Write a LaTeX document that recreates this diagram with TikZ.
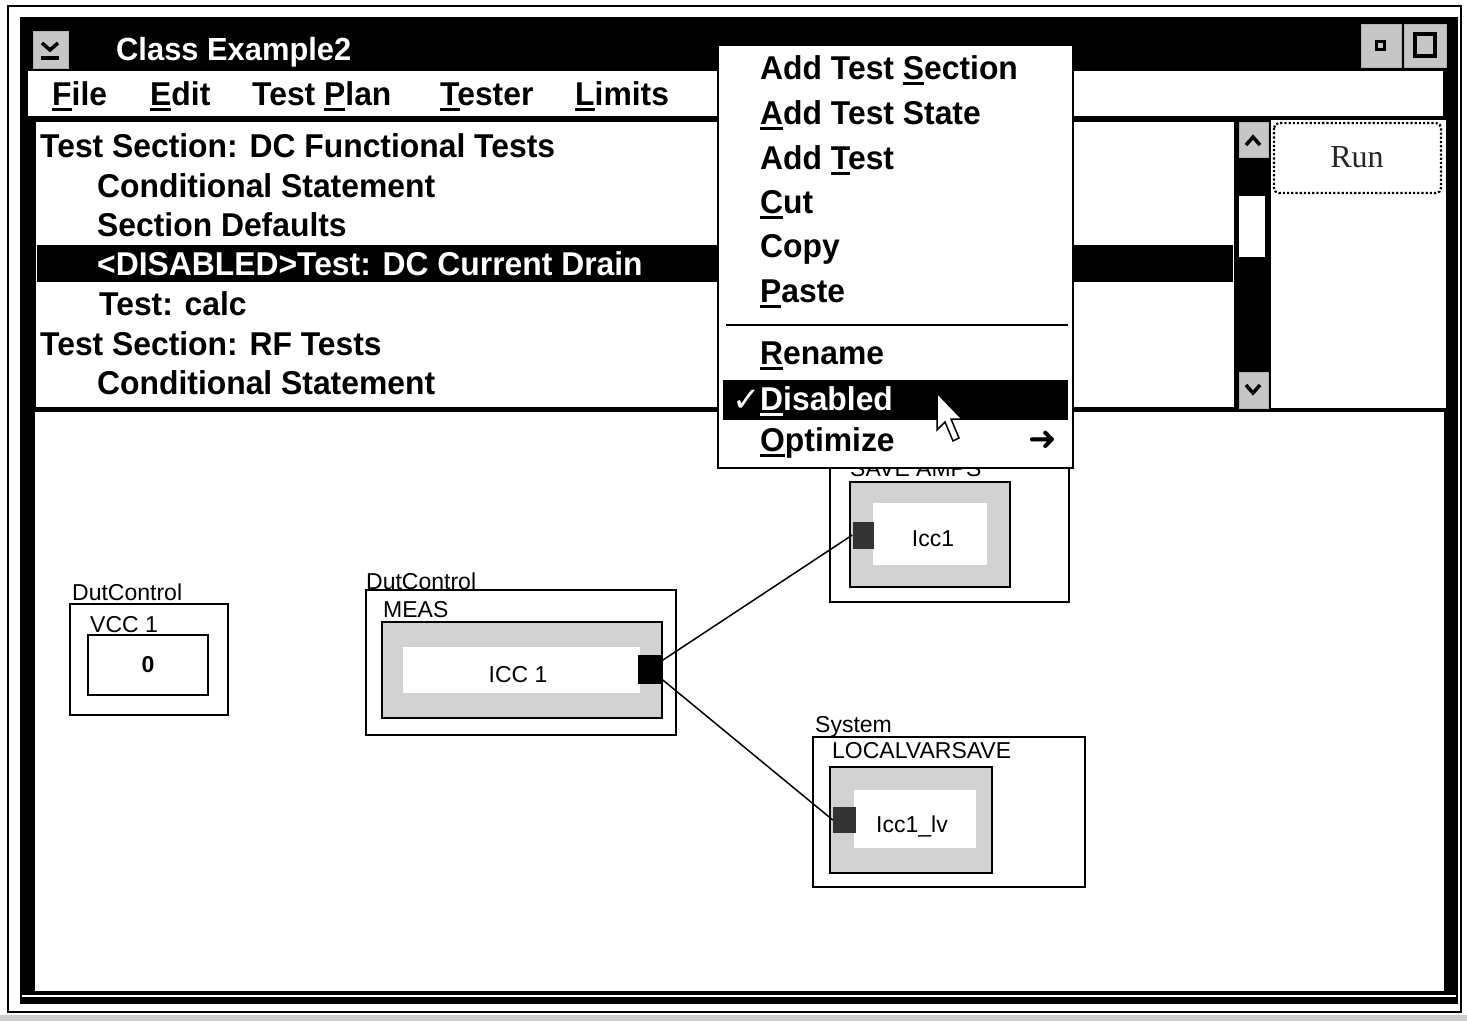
\documentclass[tikz,border=0pt]{standalone}
\usepackage{fontspec}
\setmainfont{Liberation Sans}
\newfontfamily\uif[FakeStretch=0.965]{Liberation Sans}
\newfontfamily\symf{DejaVu Sans}
\newfontfamily\runf{Liberation Serif}
\newcommand\mnem[1]{\setbox0\hbox{#1}\rlap{\rule[-6pt]{\wd0}{2.6pt}}#1}
\begin{document}
\begin{tikzpicture}[x=1pt,y=-1pt,
  ui/.style={font=\uif\fontsize{33}{33}\selectfont\bfseries, inner sep=0pt, anchor=base west},
  dg/.style={font=\fontsize{23}{23}\selectfont, inner sep=0pt},
  dglab/.style={dg, anchor=base west},
  outerblk/.style={draw=black, line width=1.6pt, fill=white, inner sep=0pt},
  greyblk/.style={draw=black, line width=2.6pt, fill=gray!35, inner sep=0pt},
  whiteblk/.style={fill=white, inner sep=0pt},
  portblk/.style={fill=black, inner sep=0pt},
  wire/.style={line width=1.5pt},
  btn/.style={fill=gray!45, draw=gray!60, line width=0.5pt}]
\useasboundingbox (0,0) rectangle (1467,1021);
\fill[white] (0,0) rectangle (1467,1021);
% outer thin frame
\draw[line width=1.5pt] (8,6) rectangle (1461,1012);
\fill[gray!40] (0,1015) rectangle (1467,1021);
% window black body
\fill[black] (20,17) rectangle (1458,1004);
\draw[white, line width=1.2pt] (22,996) -- (1456,996);
% system menu button
\fill[btn] (33,31) rectangle (68,68);
\draw[line width=3.5pt] (42,43) -- (50,50) -- (58,43);
\draw[line width=3.5pt] (41,58) -- (59,58);
% title
\node[ui, text=white, font=\uif\fontsize{32}{32}\selectfont\bfseries] (title) at (116,60) {Class Example2};
% min / max buttons
\fill[btn] (1361,24) rectangle (1401,67);
\fill[btn] (1404,24) rectangle (1446,67);
\draw[line width=3pt] (1376,41) rectangle (1384,49);
\draw[line width=3.2pt] (1415,34) rectangle (1435,56);
% menu bar
\fill[white] (28,71) rectangle (1443,116);
\node[ui] (mfile) at (52,105) {\mnem{F}ile};
\node[ui] (medit) at (150,105) {\mnem{E}dit};
\node[ui] (mplan) at (252,105) {Test \mnem{P}lan};
\node[ui] (mtester) at (440,105) {\mnem{T}ester};
\node[ui] (mlimits) at (575,105) {\mnem{L}imits};
% list area
\fill[white] (36,122) rectangle (1234,407);
\fill[black] (37,245) rectangle (1233,282);
\node[ui] (l1) at (40,157) {Test Section: DC Functional Tests};
\node[ui] (l2) at (97,197) {Conditional Statement};
\node[ui] (l3) at (97,236) {Section Defaults};
\node[ui, text=white] (l4) at (97,275) {<DISABLED>Test: DC Current Drain};
\node[ui] (l5) at (99,315) {Test: calc};
\node[ui] (l6) at (40,355) {Test Section: RF Tests};
\node[ui] (l7) at (97,394) {Conditional Statement};
% scrollbar
\fill[btn] (1239,122) rectangle (1268,157);
\draw[line width=3.5pt] (1246,145) -- (1253,137) -- (1260,145);
\fill[white] (1239,196) rectangle (1265,257);
\fill[btn] (1239,372) rectangle (1268,408);
\draw[line width=3.5pt] (1246,385) -- (1253,393) -- (1260,385);
% right panel
\fill[white] (1271,120) rectangle (1446,408);
\draw[line width=2.2pt, dotted, rounded corners=5pt] (1274,123) rectangle (1441,193);
\node[font=\runf\fontsize{32}{32}\selectfont, text=black!85, inner sep=0pt] (run) at (1357,157) {Run};
% canvas
\fill[white] (35,412) rectangle (1444,991);
% diagram blocks
\node[outerblk, minimum width=158pt, minimum height=111pt] (vccbox) at (149,659.5) {};
\node[dglab] (vccgrp) at (72,600) {DutControl};
\node[dglab] (vccname) at (90,632) {VCC 1};
\node[draw=black, line width=2.6pt, fill=white, minimum width=120pt, minimum height=60pt, dg, font=\fontsize{23}{23}\selectfont\bfseries] (vccval) at (148,665) {0};

\node[outerblk, minimum width=310pt, minimum height=145pt] (measbox) at (521,662.5) {};
\node[dglab] (measgrp) at (366,589) {DutControl};
\node[dglab] (measname) at (383,617) {MEAS};
\node[greyblk, minimum width=280pt, minimum height=96pt] (measin) at (522,670) {};
\node[whiteblk, minimum width=237pt, minimum height=46pt] (measw) at (521.5,670) {};
\node[dg] (icc) at (518,675) {ICC 1};
\node[portblk, minimum width=24pt, minimum height=29pt] (pm) at (650,669.5) {};

\node[outerblk, minimum width=239pt, minimum height=160pt] (savebox) at (949.5,522) {};
\node[dglab] (savename) at (850,476) {SAVE AMPS};
\node[greyblk, minimum width=160pt, minimum height=105pt] (savein) at (930,534.5) {};
\node[whiteblk, minimum width=114pt, minimum height=62pt] (savew) at (930,534) {};
\node[dg] (icc1) at (933,539) {Icc1};
\node[portblk, fill=black!80, minimum width=21pt, minimum height=27pt] (ps) at (863,535) {};

\node[outerblk, minimum width=272pt, minimum height=150pt] (sysbox) at (949,812) {};
\node[dglab] (sysgrp) at (815,732) {System};
\node[dglab] (sysname) at (832,758) {LOCALVARSAVE};
\node[greyblk, minimum width=162pt, minimum height=106pt] (sysin) at (911,820) {};
\node[whiteblk, minimum width=122pt, minimum height=58pt] (sysw) at (915,819) {};
\node[dg] (icclv) at (912,826) {Icc1\_lv};
\node[portblk, fill=black!80, minimum width=23pt, minimum height=26pt] (pl) at (844.5,820) {};

\draw[wire] ([yshift=9pt]pm.east) -- (ps.west);
\draw[wire] ([yshift=-10pt]pm.east) -- (pl.west);

% popup menu
\draw[line width=2pt, fill=white] (718,45) rectangle (1073,468);
\node[ui] (a1) at (760,79) {Add Test \mnem{S}ection};
\node[ui] (a2) at (760,124) {\mnem{A}dd Test State};
\node[ui] (a3) at (760,169) {Add \mnem{T}est};
\node[ui] (a4) at (760,213) {\mnem{C}ut};
\node[ui] (a5) at (760,257) {Copy};
\node[ui] (a6) at (760,302) {\mnem{P}aste};
\draw[line width=2.5pt] (726,325) -- (1068,325);
\node[ui] (a7) at (760,364) {\mnem{R}ename};
\fill[black] (723,380) rectangle (1068,420);
\node[text=white, anchor=base east, inner sep=0pt, font=\symf\fontsize{34}{34}\selectfont\bfseries] (chk) at (761,411) {✓};
\node[ui, text=white] (a8) at (760,410) {\mnem{D}isabled};
\node[ui] (a9) at (760,451) {\mnem{O}ptimize};
\node[font=\symf\fontsize{34}{34}\selectfont\bfseries, inner sep=0pt] (sub) at (1043,441) {➜};
% mouse cursor
\draw[fill=white, line width=1.5pt, line join=miter] (937,393) -- (937,430) -- (945,422) -- (953,441) -- (959,438) -- (951,419) -- (962,419) -- cycle;
\end{tikzpicture}
\end{document}
